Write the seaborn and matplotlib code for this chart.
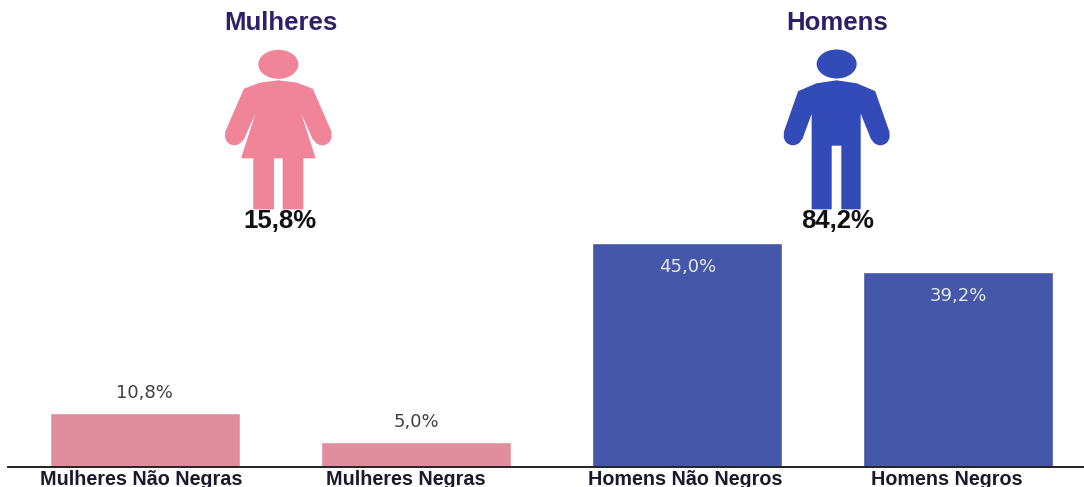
import matplotlib
matplotlib.use('Agg')
import matplotlib.pyplot as plt
from matplotlib.patches import Polygon, Circle, Ellipse
from matplotlib.transforms import ScaledTranslation
import pandas as pd
import seaborn as sns

# dados
categorias = ['Mulheres Não Negras', 'Mulheres Negras', 'Homens Não Negros', 'Homens Negros']
valores = [10.8, 5.0, 45.0, 39.2]
grupos = ['Mulheres', 'Homens']
totais = ['15,8%', '84,2%']

W, H = 1084, 487
COR_BARRA = ['#E08E9E', '#E08E9E', '#4557A8', '#4557A8']
COR_ICONE = {'Mulheres': '#F08498', 'Homens': '#334BB8'}
COR_TITULO = '#2E2068'
DESVIO_ROTULO = [-3.5, -10.5, -2, -11.5]  # os rotulos nao ficam centrados nas barras

sns.set_theme(style='white')
plt.rcParams['font.family'] = ['Liberation Sans', 'DejaVu Sans']

df = pd.DataFrame({'categoria': categorias, 'valor': valores})

fig = plt.figure(figsize=(W / 100, H / 100), dpi=100)
fig.patch.set_facecolor('white')

# ==================== barras ====================
ax = fig.add_axes([8 / W, (H - 467) / H, (W - 8) / W, 224 / H])
sns.barplot(data=df, x='categoria', y='valor', hue='categoria', palette=COR_BARRA,
            width=0.70, saturation=1, legend=False, ax=ax)
ax.set_xlim(-0.504, 3.463)
ax.set_ylim(0, 45)
ax.set_xlabel('')
ax.set_ylabel('')
ax.set_yticks([])
ax.tick_params(axis='x', length=0, pad=2)
for lab, dx in zip(ax.get_xticklabels(), DESVIO_ROTULO):
    lab.set_fontsize(14.2)
    lab.set_fontweight('bold')
    lab.set_color('#1A1A2A')
    lab.set_transform(lab.get_transform() + ScaledTranslation(dx / 100, 0, fig.dpi_scale_trans))
sns.despine(ax=ax, left=True)
ax.spines['bottom'].set_color('#222222')
ax.spines['bottom'].set_linewidth(1.4)

for cont, v in zip(ax.containers, valores):
    dentro = v > 30
    ax.bar_label(cont, labels=[f'{v:.1f}%'.replace('.', ',')],
                 padding=-24 if dentro else 8,
                 fontsize=13, family='DejaVu Sans',
                 color='#E6E8F2' if dentro else '#404040')

# ==================== pictogramas ====================
over = fig.add_axes([0, 0, 1, 1], facecolor='none')
over.set_xlim(0, W)
over.set_ylim(H, 0)
over.axis('off')


def desenha(x0, pontos, cabeca, maos, cor):
    over.add_patch(Polygon([(x0 + a / 3, b / 3) for a, b in pontos], closed=True,
                           facecolor=cor, edgecolor=cor, lw=1, joinstyle='round'))
    over.add_patch(Ellipse((x0 + cabeca[0] / 3, cabeca[1] / 3), 40, 29, color=cor, lw=0))
    for cx, cy in maos:
        over.add_patch(Circle((x0 + cx / 3, cy / 3), 9.3, color=cor, lw=0))


desenha(200,
        [(133, 268), (180, 250), (235, 243), (290, 250), (337, 268), (393, 397),
         (341, 419), (290, 305), (344, 473), (308, 473), (308, 626), (250, 626),
         (250, 473), (220, 473), (220, 626), (162, 626), (162, 473), (126, 473),
         (180, 305), (129, 419), (77, 397)],
        (235, 193), [(103, 408), (367, 408)], COR_ICONE['Mulheres'])
desenha(760,
        [(116, 275), (170, 252), (230, 243), (290, 252), (344, 275), (387, 398),
         (335, 417), (300, 330), (300, 626), (246, 626), (246, 435), (213, 435),
         (213, 626), (157, 626), (157, 330), (125, 417), (73, 398)],
        (230, 192), [(99, 408), (361, 408)], COR_ICONE['Homens'])

for grupo, total, cx, tx in zip(grupos, totais, [280.5, 837.5], [279.5, 837.5]):
    over.text(cx, 23, grupo, ha='center', va='center', fontsize=18.5,
              fontweight='bold', color=COR_TITULO)
    over.text(tx, 221, total, ha='center', va='center', fontsize=18.5,
              fontweight='bold', color='#111111')

plt.savefig('out.png', dpi=100)
